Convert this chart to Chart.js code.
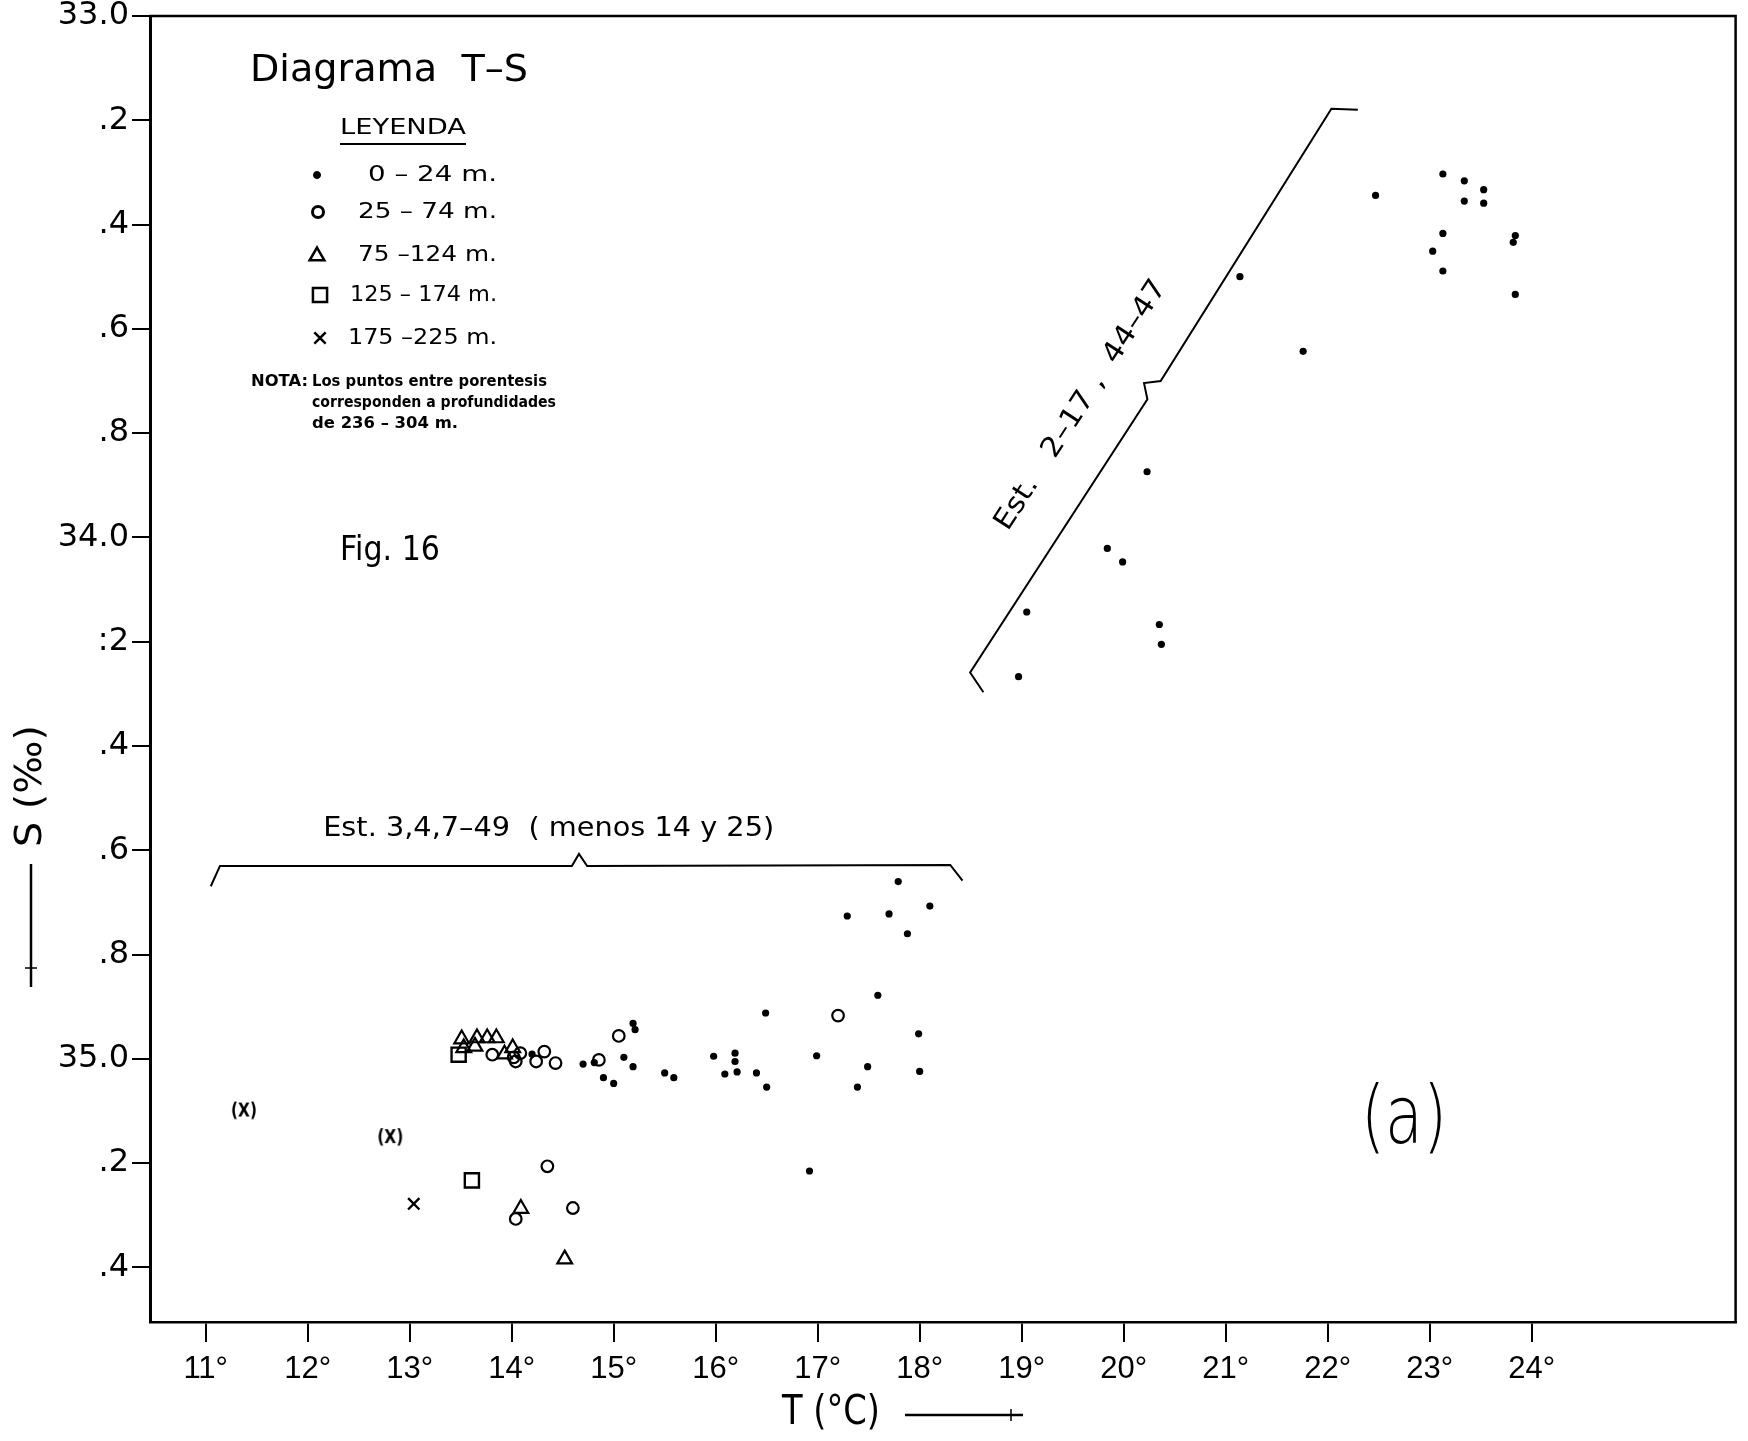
<!DOCTYPE html>
<html>
<head>
<meta charset="utf-8">
<script src="https://cdn.jsdelivr.net/npm/chart.js@4.4.1/dist/chart.umd.min.js"></script>
<style>
html,body{margin:0;padding:0;background:#fff;}
#wrap{width:1748px;height:1441px;position:relative;}
</style>
</head>
<body>
<div id="wrap"><canvas id="c"></canvas></div>
<script>
// ---------------- DATA ----------------
const xTickValues = [11,12,13,14,15,16,17,18,19,20,21,22,23,24];
const xTickLabels = ["11°","12°","13°","14°","15°","16°","17°","18°","19°","20°","21°","22°","23°","24°"];
const yTickValues = [33.0,33.2,33.4,33.6,33.8,34.0,34.2,34.4,34.6,34.8,35.0,35.2,35.4];
const yTickLabels = ["33.0",".2",".4",".6",".8","34.0",":2",".4",".6",".8","35.0",".2",".4"];

const seriesNames = ["0 – 24 m.","25 – 74 m.","75 –124 m.","125 – 174 m.","175 –225 m.","(236 – 304 m.)"];

// 0-24 m (dots)
const tempDots = [22.47,23.13,23.34,23.53,23.34,23.53,23.13,23.84,23.82,23.03,23.13,23.84,21.14,21.76,20.23,19.84,19.99,19.05,20.35,20.37,18.97,
  17.79,17.29,17.70,18.10,17.88,17.59,16.49,17.99,16.99,17.49,18.00,17.39,16.92,15.98,16.19,16.19,16.21,16.09,16.40,16.50,15.50,15.59,15.10,15.19,14.90,15.00,15.19,15.21,14.70,14.81,14.20];
const salDots  = [33.344,33.303,33.316,33.333,33.355,33.359,33.417,33.421,33.434,33.451,33.489,33.534,33.500,33.643,33.874,34.021,34.047,34.143,34.167,34.205,34.267,
  34.660,34.726,34.722,34.707,34.760,34.878,34.912,34.952,34.994,35.015,35.024,35.054,35.215,34.995,34.989,35.005,35.025,35.029,35.027,35.054,35.027,35.036,34.997,35.015,35.036,35.047,34.932,34.944,35.010,35.007,34.991];
// 25-74 m (open circles)
const tempCircles = [17.20,15.05,14.855,14.43,14.32,14.24,14.085,14.04,14.02,13.81,14.35,14.04,14.60];
const salCircles  = [34.917,34.956,35.002,35.008,34.986,35.005,34.989,35.005,34.997,34.992,35.206,35.307,35.286];
// 75-124 m (triangles)
const tempTriangles = [13.51,13.66,13.76,13.85,13.53,13.64,13.93,14.01,14.09,14.52];
const salTriangles  = [34.962,34.960,34.960,34.960,34.979,34.976,34.991,34.979,35.287,35.384];
// 125-174 m (squares)
const tempSquares = [13.48,13.61];
const salSquares  = [34.992,35.233];
// 175-225 m (crosses)
const tempCrosses = [13.04];
const salCrosses  = [35.278];
// 236-304 m (crosses in parentheses)
const tempParen = [11.375,12.81];
const salParen  = [35.099,35.150];

// ---------------- ANNOTATION GEOMETRY (data units) ----------------
const lowBracketT = [11.05,11.14,14.59,14.66,14.74,18.30,18.42];
const lowBracketS = [34.669,34.630,34.630,34.607,34.630,34.628,34.658];
const upBracketT  = [18.625,18.495,20.233,20.20,20.363,22.037,22.296];
const upBracketS  = [34.297,34.259,33.735,33.704,33.700,33.178,33.180];
const lowLabel = {text:"Est. 3,4,7–49  ( menos 14 y 25)", t:14.363, s:34.559};
const upLabel  = {text:"Est.   2–17 ,  44–47", t:19.584, s:33.7465};

function zip(a,b){ return a.map((v,i)=>({x:v,y:b[i]})); }

// canvas point style for "(X)"
function parenCross(){
  const c = document.createElement('canvas');
  c.width = 32; c.height = 26;
  const g = c.getContext('2d');
  g.fillStyle = '#000';
  g.font = '600 20px "DejaVu Sans"';
  g.textAlign = 'left'; g.textBaseline = 'middle';
  const w = g.measureText('(X)').width;
  g.save(); g.translate(3,13); g.scale(26/w,1); g.fillText('(X)',0,1); g.restore();
  return c;
}
const parenImg = parenCross();

function drawText(ctx, t, x, y, size, w, o){
  o = o || {};
  ctx.save();
  ctx.font = (o.weight||'normal') + ' ' + size + 'px ' + (o.family||'"DejaVu Sans"');
  ctx.textBaseline = 'middle';
  ctx.textAlign = 'left';
  ctx.fillStyle = '#000';
  const mw = ctx.measureText(t).width;
  const sx = w ? w/mw : 1;
  ctx.translate(x,y);
  if (o.rot) ctx.rotate(o.rot);
  ctx.scale(sx,1);
  let ox = -mw/2;
  if (o.align==='left') ox = 0;
  if (o.align==='right') ox = -mw;
  ctx.fillText(t, ox, 0);
  ctx.restore();
}

function marker(ctx, style, r, bw, x, y, fill){
  ctx.save();
  ctx.strokeStyle = '#000'; ctx.fillStyle = fill ? '#000' : 'rgba(0,0,0,0)';
  ctx.lineWidth = bw;
  if (Chart.helpers && Chart.helpers.drawPoint){
    Chart.helpers.drawPoint(ctx, {pointStyle:style, radius:r, rotation:0, borderWidth:bw}, x, y);
  } else {
    ctx.beginPath(); ctx.arc(x,y,r,0,Math.PI*2); if (fill) ctx.fill(); ctx.stroke();
  }
  ctx.restore();
}

const annot = {
  id:'annot',
  afterDraw(chart){
    const ctx = chart.ctx, a = chart.chartArea, xs = chart.scales.x, ys = chart.scales.y;
    ctx.save();
    ctx.strokeStyle = '#000';
    // frame top / right
    ctx.lineWidth = 2.5;
    ctx.beginPath();
    ctx.moveTo(a.left-1, a.top); ctx.lineTo(a.right, a.top); ctx.lineTo(a.right, a.bottom+1);
    ctx.stroke();

    // brackets
    ctx.lineWidth = 2;
    ctx.lineJoin = 'miter';
    function poly(T,S){
      ctx.beginPath();
      T.forEach((t,i)=>{ const px = xs.getPixelForValue(t), py = ys.getPixelForValue(S[i]);
        if(i===0) ctx.moveTo(px,py); else ctx.lineTo(px,py); });
      ctx.stroke();
    }
    poly(lowBracketT, lowBracketS);
    poly(upBracketT, upBracketS);

    drawText(ctx, lowLabel.text, xs.getPixelForValue(lowLabel.t), ys.getPixelForValue(lowLabel.s), 27, 451);
    const ang = Math.atan2(ys.getPixelForValue(upBracketS[2]) - ys.getPixelForValue(upBracketS[1]),
                           xs.getPixelForValue(upBracketT[2]) - xs.getPixelForValue(upBracketT[1]));
    drawText(ctx, upLabel.text, xs.getPixelForValue(upLabel.t), ys.getPixelForValue(upLabel.s), 28, 292, {rot:ang});

    // title & legend
    drawText(ctx, "Diagrama  T–S", 250, 71, 38, 278, {align:'left'});
    drawText(ctx, "LEYENDA", 340, 129, 21, 126, {align:'left'});
    ctx.lineWidth = 2;
    ctx.beginPath(); ctx.moveTo(340,144); ctx.lineTo(466,144); ctx.stroke();

    const rowsY = [175, 212, 255, 295, 338];
    const rowsW = [129, 139, 139, 147, 149];
    for (let i=0;i<5;i++) drawText(ctx, seriesNames[i], 497, rowsY[i], 22, rowsW[i], {align:'right'});
    marker(ctx,'circle',3.5,1,317,rowsY[0],true);
    marker(ctx,'circle',5.5,3,318,rowsY[1],false);
    marker(ctx,'triangle',8.5,2.5,317,rowsY[2]+1,false);
    marker(ctx,'rect',10,2.5,320,rowsY[3],false);
    marker(ctx,'crossRot',8,2.5,320,rowsY[4],false);

    drawText(ctx, "NOTA:", 251, 382, 15, 57, {align:'left', weight:'bold'});
    drawText(ctx, "Los puntos entre porentesis", 312, 382, 15, 235, {align:'left', weight:'bold'});
    drawText(ctx, "corresponden a profundidades", 312, 403, 15, 244, {align:'left', weight:'bold'});
    drawText(ctx, "de 236 – 304 m.", 312, 424, 15, 146, {align:'left', weight:'bold'});

    drawText(ctx, "Fig. 16", 340, 551, 33, 100, {align:'left'});
    drawText(ctx, "(a)", 1404, 1122, 80, 86, {weight:'200'});

    // axis titles with arrows
    drawText(ctx, "T (°C)", 831, 1414, 40, 98);
    ctx.lineWidth = 2.5;
    ctx.beginPath(); ctx.moveTo(905,1415); ctx.lineTo(1023,1415); ctx.stroke();
    ctx.lineWidth = 1.5;
    ctx.beginPath(); ctx.moveTo(1011,1409); ctx.lineTo(1011,1421); ctx.stroke();

    drawText(ctx, "S (‰)", 31, 786, 38, 122, {rot:-Math.PI/2});
    ctx.lineWidth = 2.5;
    ctx.beginPath(); ctx.moveTo(31,864); ctx.lineTo(31,987); ctx.stroke();
    ctx.lineWidth = 1.5;
    ctx.beginPath(); ctx.moveTo(25,968); ctx.lineTo(37,968); ctx.stroke();
    ctx.restore();
  }
};

const ctxc = document.getElementById('c');
new Chart(ctxc, {
  type: 'scatter',
  data: {
    datasets: [
      {label:seriesNames[0], data:zip(tempDots,salDots), pointStyle:'circle', pointRadius:3.6, backgroundColor:'#000', borderColor:'#000', borderWidth:0},
      {label:seriesNames[1], data:zip(tempCircles,salCircles), pointStyle:'circle', pointRadius:5.8, backgroundColor:'rgba(0,0,0,0)', borderColor:'#000', borderWidth:2.2},
      {label:seriesNames[2], data:zip(tempTriangles,salTriangles), pointStyle:'triangle', pointRadius:8.5, backgroundColor:'rgba(0,0,0,0)', borderColor:'#000', borderWidth:2.2},
      {label:seriesNames[3], data:zip(tempSquares,salSquares), pointStyle:'rect', pointRadius:10, backgroundColor:'rgba(0,0,0,0)', borderColor:'#000', borderWidth:2.4},
      {label:seriesNames[4], data:zip(tempCrosses,salCrosses), pointStyle:'crossRot', pointRadius:8, backgroundColor:'#000', borderColor:'#000', borderWidth:2.4},
      {label:seriesNames[5], data:zip(tempParen,salParen), pointStyle:parenImg, pointRadius:10, backgroundColor:'#000', borderColor:'#000'}
    ]
  },
  options: {
    responsive: true,
    maintainAspectRatio: false,
    animation: false,
    events: [],
    layout: {padding:{left:0, top:16, right:3, bottom:0}},
    plugins: {legend:{display:false}, tooltip:{enabled:false}, title:{display:false}},
    scales: {
      x: {
        type:'linear', min:10.454, max:26.0,
        afterBuildTicks: s => { s.ticks = xTickValues.map(v=>({value:v})); },
        afterFit: s => { s.height = 119; s.paddingLeft = 0; s.paddingRight = 0; },
        ticks: {autoSkip:false, maxRotation:0, padding:9, color:'#000',
          font:{family:'"Liberation Sans"', size:31},
          callback: (v,i) => xTickLabels[i]},
        grid: {display:true, drawOnChartArea:false, drawTicks:true, tickLength:20, color:'#000', lineWidth:2},
        border: {display:true, color:'#000', width:2.5}
      },
      y: {
        type:'linear', min:33.0, max:35.5046, reverse:true,
        afterBuildTicks: s => { s.ticks = yTickValues.map(v=>({value:v})); },
        afterFit: s => { s.width = 150; s.paddingTop = 0; s.paddingBottom = 0; },
        ticks: {autoSkip:false, padding:3, color:'#000',
          font:{family:'"DejaVu Sans"', size:32},
          callback: (v,i) => yTickLabels[i]},
        grid: {display:true, drawOnChartArea:false, drawTicks:true, tickLength:18, color:'#000', lineWidth:2},
        border: {display:true, color:'#000', width:3}
      }
    }
  },
  plugins: [annot]
});
</script>
</body>
</html>
